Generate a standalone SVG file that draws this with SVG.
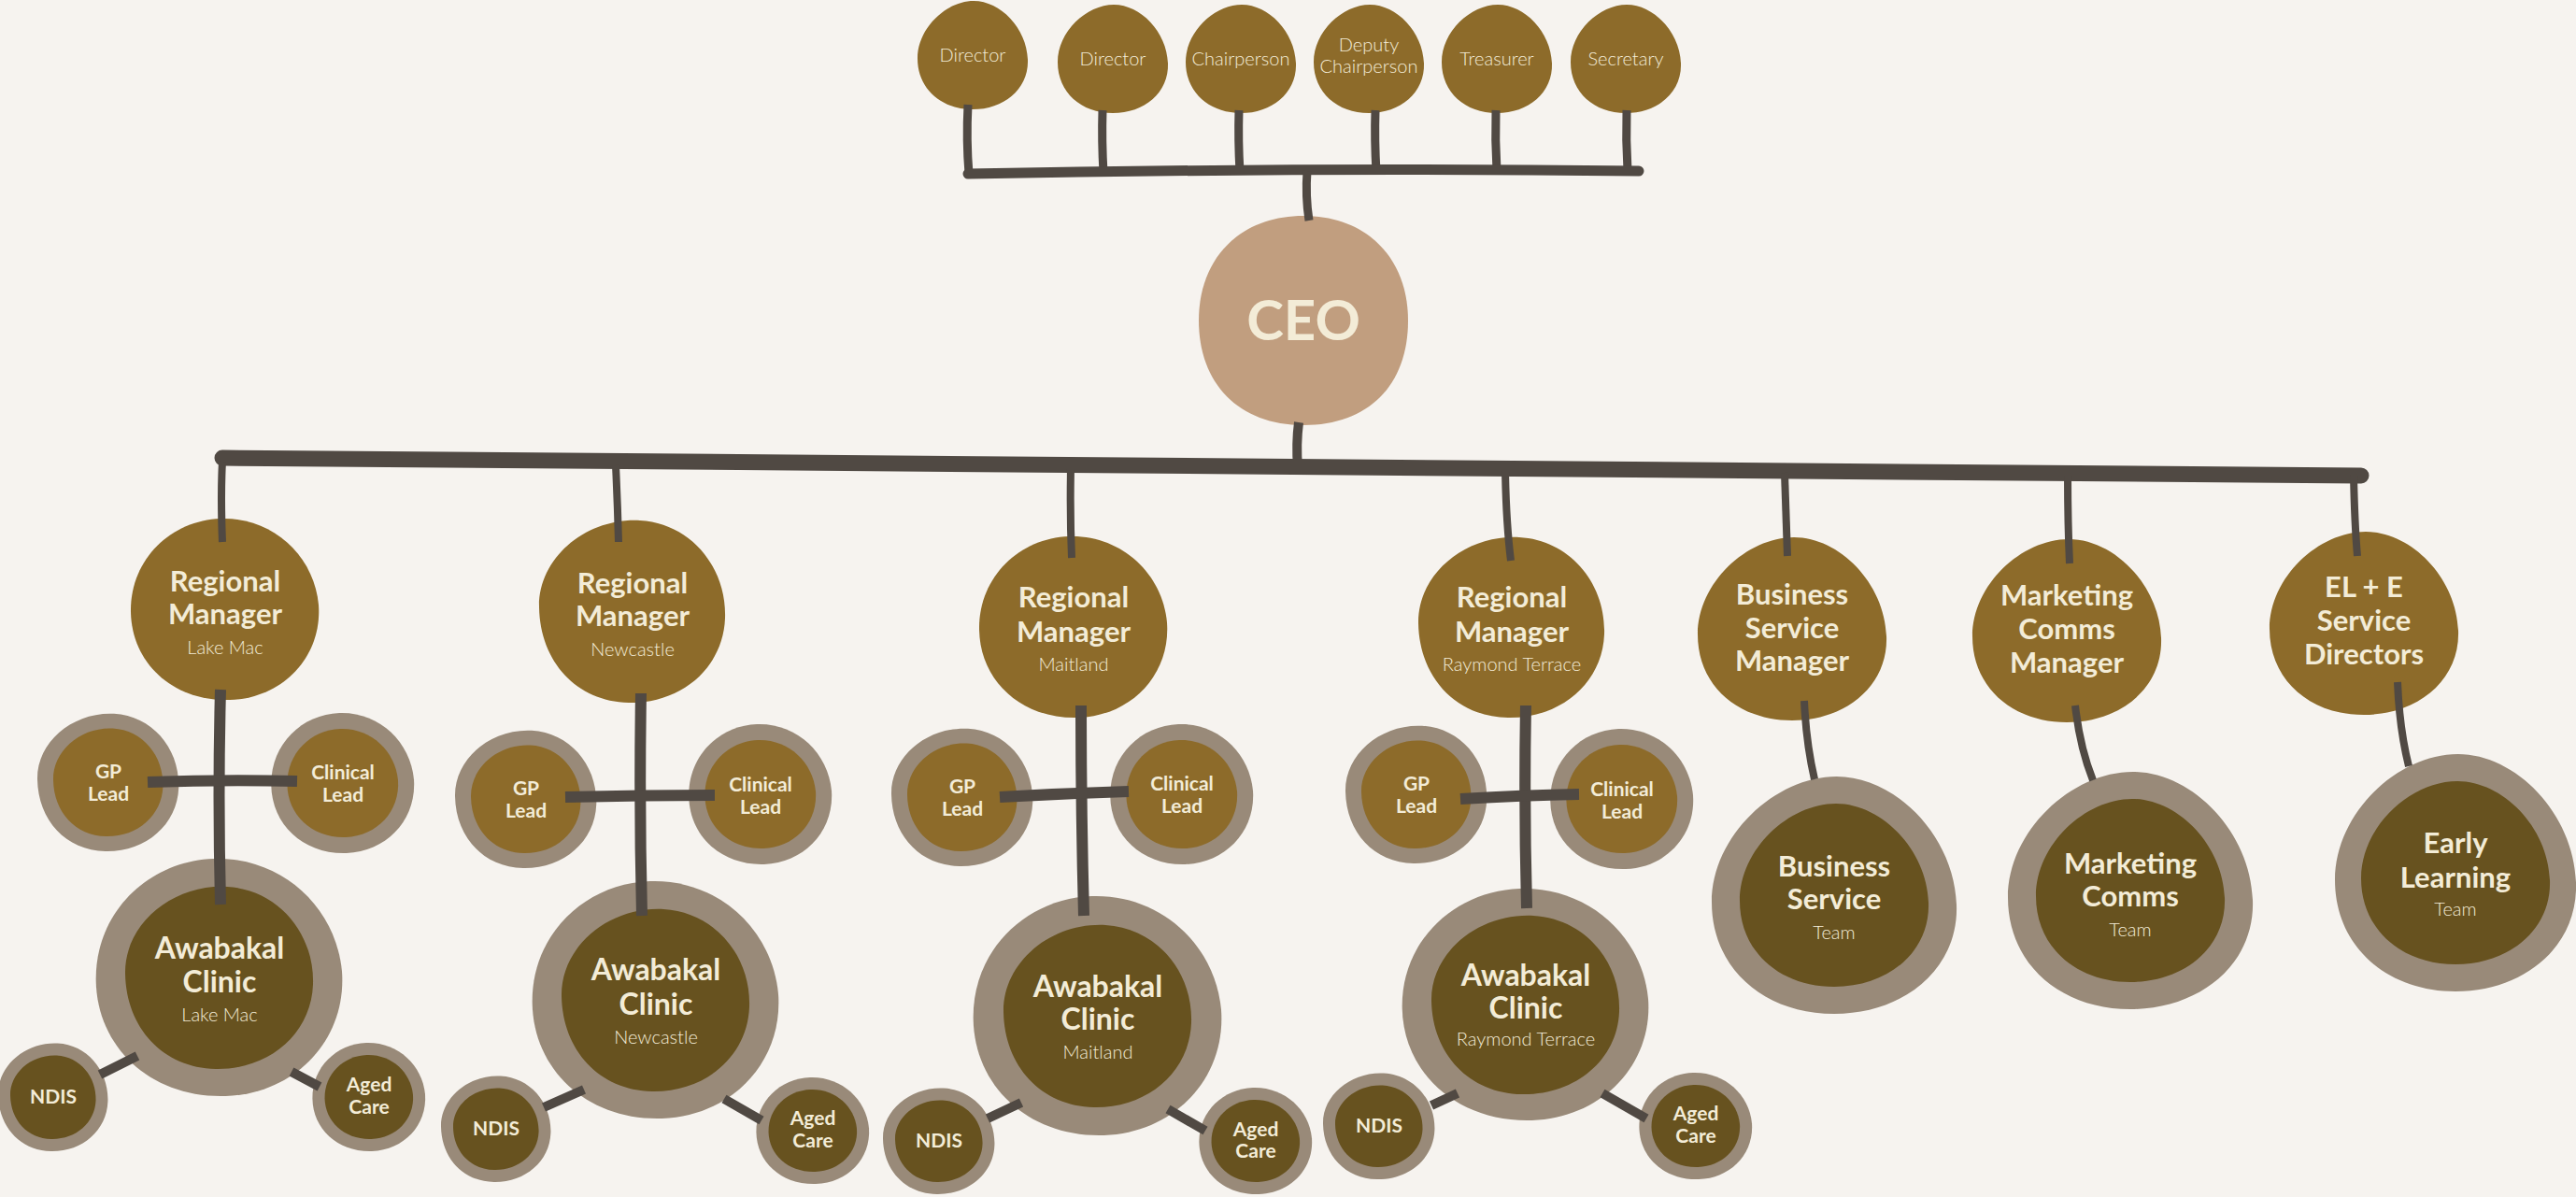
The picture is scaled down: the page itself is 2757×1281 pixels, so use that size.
<svg xmlns="http://www.w3.org/2000/svg" width="2757" height="1281" viewBox="0 0 2757 1281">
<style>
.gold{fill:#8d6b2a}
.dark{fill:#67521f}
.ring{fill:#998a79}
.ceo{fill:#c19e7f}
.ln{stroke:#504943;fill:none;stroke-linecap:butt}
.t{font-family:Lato,'Liberation Sans',sans-serif;fill:#f3ecd7;text-anchor:middle}
.b{font-weight:700}
.l{font-weight:300}
.s20{font-size:20px}
.s21{font-size:21px}
.s31{font-size:31px}
.s32{font-size:32px}
</style>
<defs>
<path id="blob1" d="M -5,-100 C 50,-102 95,-60 100,-5 C 104,52 62,98 5,100 C -55,102 -100,60 -101,3 C -102,-55 -58,-98 -5,-100 Z"/>
<path id="blob2" d="M 8,-99 C 62,-96 101,-48 99,8 C 97,62 52,101 -4,100 C -60,99 -99,55 -100,-4 C -101,-58 -50,-102 8,-99 Z"/>
<path id="egg" d="M 2,-100 C 50,-100 98,-50 100,8 C 102,62 57,100 0,100 C -57,100 -100,62 -100,6 C -100,-50 -48,-100 2,-100 Z"/>
<path id="round" d="M 0,-100 C 60,-100 100,-60 100,0 C 100,62 62,100 0,100 C -62,100 -100,60 -100,0 C -100,-60 -60,-100 0,-100 Z"/>
</defs>
<rect width="2757" height="1281" fill="#f6f3ef"/>

<!-- Board -->
<g id="board-director-1"><use href="#egg" class="gold" transform="translate(1041 59) scale(0.59 0.58)"/><text class="t l s20" x="1041" y="66">Director</text></g>
<g id="board-director-2"><use href="#egg" class="gold" transform="translate(1191 63) scale(0.59 0.58)"/><text class="t l s20" x="1191" y="70">Director</text></g>
<g id="board-chairperson"><use href="#egg" class="gold" transform="translate(1328 63) scale(0.59 0.58)"/><text class="t l s20" x="1328" y="70">Chairperson</text></g>
<g id="board-deputy"><use href="#egg" class="gold" transform="translate(1465 63) scale(0.59 0.58)"/><text class="t l s20" x="1465"><tspan x="1465" y="55">Deputy</tspan><tspan x="1465" y="78">Chairperson</tspan></text></g>
<g id="board-treasurer"><use href="#egg" class="gold" transform="translate(1602 63) scale(0.59 0.58)"/><text class="t l s20" x="1602" y="70">Treasurer</text></g>
<g id="board-secretary"><use href="#egg" class="gold" transform="translate(1740 63) scale(0.59 0.58)"/><text class="t l s20" x="1740" y="70">Secretary</text></g>

<!-- CEO -->
<g id="ceo"><use href="#round" class="ceo" transform="translate(1395 343) scale(1.12 1.12)"/><text class="t b" x="1395" y="364" font-size="60">CEO</text></g>

<!-- Regional managers -->
<g id="rm-lakemac"><use href="#blob1" class="gold" transform="translate(241 652) scale(1.0 0.97)"/><text class="t b s31"><tspan x="241" y="633">Regional</tspan><tspan x="241" y="668">Manager</tspan></text><text class="t l s20" x="241" y="700">Lake Mac</text></g>
<g id="rm-newcastle"><use href="#blob2" class="gold" transform="translate(677 654) scale(1.0 0.98)"/><text class="t b s31"><tspan x="677" y="635">Regional</tspan><tspan x="677" y="670">Manager</tspan></text><text class="t l s20" x="677" y="702">Newcastle</text></g>
<g id="rm-maitland"><use href="#blob1" class="gold" transform="translate(1149 671) scale(1.0 0.97)"/><text class="t b s31"><tspan x="1149" y="650">Regional</tspan><tspan x="1149" y="687">Manager</tspan></text><text class="t l s20" x="1149" y="718">Maitland</text></g>
<g id="rm-raymond-terrace"><use href="#blob2" class="gold" transform="translate(1618 671) scale(1.0 0.97)"/><text class="t b s31"><tspan x="1618" y="650">Regional</tspan><tspan x="1618" y="687">Manager</tspan></text><text class="t l s20" x="1618" y="718">Raymond Terrace</text></g>

<!-- Other managers -->
<g id="business-service-manager"><use href="#egg" class="gold" transform="translate(1918 673) scale(1.01 0.98)"/><text class="t b s31"><tspan x="1918" y="647">Business</tspan><tspan x="1918" y="683">Service</tspan><tspan x="1918" y="718">Manager</tspan></text></g>
<g id="marketing-comms-manager"><use href="#egg" class="gold" transform="translate(2212 675) scale(1.01 0.98)"/><text class="t b s31"><tspan x="2212" y="648">Marketing</tspan><tspan x="2212" y="684">Comms</tspan><tspan x="2212" y="720">Manager</tspan></text></g>
<g id="ele-service-directors"><use href="#egg" class="gold" transform="translate(2530 667) scale(1.01 0.98)"/><text class="t b s31"><tspan x="2530" y="639">EL + E</tspan><tspan x="2530" y="675">Service</tspan><tspan x="2530" y="711">Directors</tspan></text></g>

<!-- Leads -->
<g id="gp-lead-lakemac"><use href="#blob2" class="ring" transform="translate(116 837) scale(0.76 0.74)"/><use href="#blob2" class="gold" transform="translate(116 837) scale(0.59 0.58)"/><text class="t b s21"><tspan x="116" y="833">GP</tspan><tspan x="116" y="857">Lead</tspan></text></g>
<g id="clinical-lead-lakemac"><use href="#blob1" class="ring" transform="translate(367 838) scale(0.76 0.75)"/><use href="#blob1" class="gold" transform="translate(367 838) scale(0.59 0.58)"/><text class="t b s21"><tspan x="367" y="834">Clinical</tspan><tspan x="367" y="858">Lead</tspan></text></g>
<g id="gp-lead-newcastle"><use href="#blob2" class="ring" transform="translate(563 855) scale(0.76 0.74)"/><use href="#blob2" class="gold" transform="translate(563 855) scale(0.59 0.58)"/><text class="t b s21"><tspan x="563" y="851">GP</tspan><tspan x="563" y="875">Lead</tspan></text></g>
<g id="clinical-lead-newcastle"><use href="#blob1" class="ring" transform="translate(814 850) scale(0.76 0.75)"/><use href="#blob1" class="gold" transform="translate(814 850) scale(0.59 0.58)"/><text class="t b s21"><tspan x="814" y="847">Clinical</tspan><tspan x="814" y="871">Lead</tspan></text></g>
<g id="gp-lead-maitland"><use href="#blob2" class="ring" transform="translate(1030 853) scale(0.76 0.74)"/><use href="#blob2" class="gold" transform="translate(1030 853) scale(0.59 0.58)"/><text class="t b s21"><tspan x="1030" y="849">GP</tspan><tspan x="1030" y="873">Lead</tspan></text></g>
<g id="clinical-lead-maitland"><use href="#blob1" class="ring" transform="translate(1265 850) scale(0.76 0.75)"/><use href="#blob1" class="gold" transform="translate(1265 850) scale(0.59 0.58)"/><text class="t b s21"><tspan x="1265" y="846">Clinical</tspan><tspan x="1265" y="870">Lead</tspan></text></g>
<g id="gp-lead-raymond-terrace"><use href="#blob2" class="ring" transform="translate(1516 850) scale(0.76 0.74)"/><use href="#blob2" class="gold" transform="translate(1516 850) scale(0.59 0.58)"/><text class="t b s21"><tspan x="1516" y="846">GP</tspan><tspan x="1516" y="870">Lead</tspan></text></g>
<g id="clinical-lead-raymond-terrace"><use href="#blob1" class="ring" transform="translate(1736 855) scale(0.76 0.75)"/><use href="#blob1" class="gold" transform="translate(1736 855) scale(0.59 0.58)"/><text class="t b s21"><tspan x="1736" y="852">Clinical</tspan><tspan x="1736" y="876">Lead</tspan></text></g>

<!-- Clinics -->
<g id="clinic-lakemac"><use href="#blob1" class="ring" transform="translate(235 1046) scale(1.31 1.27)"/><use href="#blob2" class="dark" transform="translate(235 1046) scale(1.01 0.98)"/><text class="t b s32"><tspan x="235" y="1026">Awabakal</tspan><tspan x="235" y="1062">Clinic</tspan></text><text class="t l s20" x="235" y="1093">Lake Mac</text></g>
<g id="clinic-newcastle"><use href="#blob1" class="ring" transform="translate(702 1070) scale(1.31 1.27)"/><use href="#blob2" class="dark" transform="translate(702 1070) scale(1.01 0.98)"/><text class="t b s32"><tspan x="702" y="1049">Awabakal</tspan><tspan x="702" y="1086">Clinic</tspan></text><text class="t l s20" x="702" y="1117">Newcastle</text></g>
<g id="clinic-maitland"><use href="#blob1" class="ring" transform="translate(1175 1087) scale(1.32 1.28)"/><use href="#blob2" class="dark" transform="translate(1175 1087) scale(1.01 0.98)"/><text class="t b s32"><tspan x="1175" y="1067">Awabakal</tspan><tspan x="1175" y="1102">Clinic</tspan></text><text class="t l s20" x="1175" y="1133">Maitland</text></g>
<g id="clinic-raymond-terrace"><use href="#blob1" class="ring" transform="translate(1633 1075) scale(1.31 1.24)"/><use href="#blob2" class="dark" transform="translate(1633 1075) scale(1.01 0.96)"/><text class="t b s32"><tspan x="1633" y="1055">Awabakal</tspan><tspan x="1633" y="1090">Clinic</tspan></text><text class="t l s20" x="1633" y="1119">Raymond Terrace</text></g>

<!-- NDIS / Aged Care -->
<g id="ndis-lakemac"><use href="#blob2" class="ring" transform="translate(57 1174) scale(0.59 0.58)"/><use href="#blob2" class="dark" transform="translate(57 1174) scale(0.46 0.45)"/><text class="t b s21" x="57" y="1181">NDIS</text></g>
<g id="aged-care-lakemac"><use href="#blob1" class="ring" transform="translate(395 1174) scale(0.6 0.58)"/><use href="#blob1" class="dark" transform="translate(395 1174) scale(0.47 0.45)"/><text class="t b s21"><tspan x="395" y="1168">Aged</tspan><tspan x="395" y="1192">Care</tspan></text></g>
<g id="ndis-newcastle"><use href="#blob2" class="ring" transform="translate(531 1208) scale(0.59 0.57)"/><use href="#blob2" class="dark" transform="translate(531 1208) scale(0.46 0.44)"/><text class="t b s21" x="531" y="1215">NDIS</text></g>
<g id="aged-care-newcastle"><use href="#blob1" class="ring" transform="translate(870 1210) scale(0.6 0.57)"/><use href="#blob1" class="dark" transform="translate(870 1210) scale(0.47 0.44)"/><text class="t b s21"><tspan x="870" y="1204">Aged</tspan><tspan x="870" y="1228">Care</tspan></text></g>
<g id="ndis-maitland"><use href="#blob2" class="ring" transform="translate(1005 1221) scale(0.6 0.57)"/><use href="#blob2" class="dark" transform="translate(1005 1221) scale(0.47 0.44)"/><text class="t b s21" x="1005" y="1228">NDIS</text></g>
<g id="aged-care-maitland"><use href="#blob1" class="ring" transform="translate(1344 1221) scale(0.6 0.57)"/><use href="#blob1" class="dark" transform="translate(1344 1221) scale(0.47 0.44)"/><text class="t b s21"><tspan x="1344" y="1216">Aged</tspan><tspan x="1344" y="1239">Care</tspan></text></g>
<g id="ndis-raymond-terrace"><use href="#blob2" class="ring" transform="translate(1476 1205) scale(0.6 0.57)"/><use href="#blob2" class="dark" transform="translate(1476 1205) scale(0.47 0.44)"/><text class="t b s21" x="1476" y="1212">NDIS</text></g>
<g id="aged-care-raymond-terrace"><use href="#blob1" class="ring" transform="translate(1815 1205) scale(0.6 0.57)"/><use href="#blob1" class="dark" transform="translate(1815 1205) scale(0.47 0.44)"/><text class="t b s21"><tspan x="1815" y="1199">Aged</tspan><tspan x="1815" y="1223">Care</tspan></text></g>

<!-- Teams -->
<g id="business-service-team"><use href="#egg" class="ring" transform="translate(1963 958) scale(1.31 1.27)"/><use href="#egg" class="dark" transform="translate(1963 958) scale(1.01 0.98)"/><text class="t b s31"><tspan x="1963" y="938">Business</tspan><tspan x="1963" y="973">Service</tspan></text><text class="t l s20" x="1963" y="1005">Team</text></g>
<g id="marketing-comms-team"><use href="#egg" class="ring" transform="translate(2280 953) scale(1.31 1.27)"/><use href="#egg" class="dark" transform="translate(2280 953) scale(1.01 0.98)"/><text class="t b s31"><tspan x="2280" y="935">Marketing</tspan><tspan x="2280" y="970">Comms</tspan></text><text class="t l s20" x="2280" y="1002">Team</text></g>
<g id="early-learning-team"><use href="#egg" class="ring" transform="translate(2628 934) scale(1.29 1.27)"/><use href="#egg" class="dark" transform="translate(2628 934) scale(1.01 0.98)"/><text class="t b s31"><tspan x="2628" y="913">Early</tspan><tspan x="2628" y="950">Learning</tspan></text><text class="t l s20" x="2628" y="980">Team</text></g>

<!-- Connectors -->
<g id="connectors" class="ln">
<path d="M1036 112 Q1034 150 1037 186" stroke-width="9"/>
<path d="M1180 118 Q1179 150 1181 185" stroke-width="9"/>
<path d="M1326 118 Q1325 150 1327 184" stroke-width="9"/>
<path d="M1472 118 Q1471 150 1473 184" stroke-width="9"/>
<path d="M1601 118 Q1600 150 1602 183" stroke-width="9"/>
<path d="M1741 118 Q1740 150 1742 183" stroke-width="9"/>
<path d="M1036 186 Q1400 179 1754 183" stroke-width="11" stroke-linecap="round"/>
<path d="M1399 183 Q1397 210 1401 236" stroke-width="9"/>
<path d="M1390 452 Q1387 475 1389 500" stroke-width="10"/>
<path d="M238 490 C800 498 1400 505 2527 509" stroke-width="17" stroke-linecap="round"/>
<path d="M238 494 Q236 530 238 580" stroke-width="8"/>
<path d="M659 498 Q661 540 662 580" stroke-width="8"/>
<path d="M1146 502 Q1145 550 1147 597" stroke-width="8"/>
<path d="M1611 504 Q1612 560 1617 600" stroke-width="8"/>
<path d="M1910 506 Q1912 560 1913 595" stroke-width="8"/>
<path d="M2213 507 Q2213 560 2215 603" stroke-width="8"/>
<path d="M2519 508 Q2520 560 2523 595" stroke-width="8"/>
<path d="M236 738 Q233 850 236 968" stroke-width="12"/>
<path d="M686 742 Q684 860 687 980" stroke-width="12"/>
<path d="M1157 755 Q1157 870 1160 980" stroke-width="12"/>
<path d="M1633 755 Q1631 860 1634 972" stroke-width="12"/>
<path d="M158 837 Q240 834 318 836" stroke-width="12"/>
<path d="M605 853 Q690 851 765 851" stroke-width="12"/>
<path d="M1070 853 Q1140 849 1208 847" stroke-width="12"/>
<path d="M1563 855 Q1630 851 1690 850" stroke-width="12"/>
<path d="M107 1150 L147 1130" stroke-width="10"/>
<path d="M312 1147 L342 1163" stroke-width="10"/>
<path d="M582 1185 L625 1166" stroke-width="10"/>
<path d="M775 1176 L815 1199" stroke-width="10"/>
<path d="M1057 1197 L1093 1180" stroke-width="10"/>
<path d="M1250 1187 L1290 1210" stroke-width="10"/>
<path d="M1532 1183 L1560 1170" stroke-width="10"/>
<path d="M1715 1170 L1762 1197" stroke-width="10"/>
<path d="M1931 750 Q1933 795 1942 834" stroke-width="8"/>
<path d="M2221 755 Q2226 800 2240 835" stroke-width="8"/>
<path d="M2566 730 Q2568 780 2578 820" stroke-width="8"/>
</g>
</svg>
